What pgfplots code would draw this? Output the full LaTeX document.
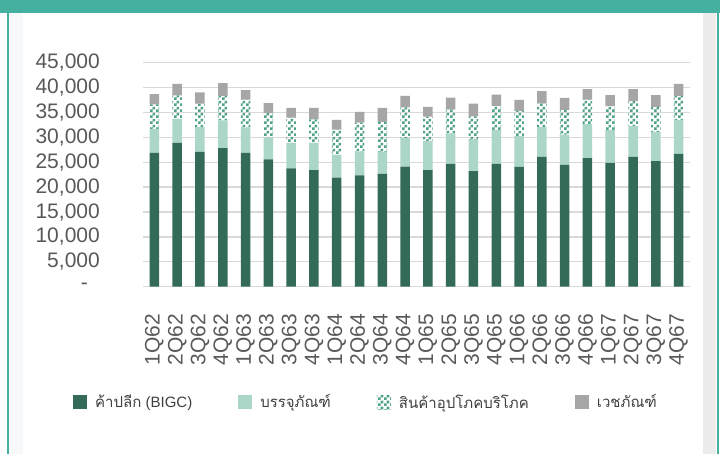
\documentclass[border=0pt]{standalone}
\usepackage{fontspec}
\setmainfont{Liberation Sans}
\newfontfamily\thaifont[Script=Thai]{Loma}
\usepackage{pgfplots}
\pgfplotsset{compat=1.18}
\usepackage{pgfplotstable}
\usetikzlibrary{patterns}
\definecolor{darkg}{HTML}{336B58}
\definecolor{mint}{HTML}{ABD6C8}
\definecolor{chkg}{HTML}{4FA285}
\definecolor{grayb}{HTML}{A6A6A6}
\definecolor{gridc}{HTML}{D9D9D9}
\definecolor{tealf}{HTML}{45B0A0}
\definecolor{lstrip}{HTML}{F6F8FA}
\definecolor{rstrip}{HTML}{ECECEC}
\definecolor{labc}{HTML}{595959}
\pgfdeclarepatternformonly{chk}{\pgfpointorigin}{\pgfpoint{6pt}{6pt}}{\pgfpoint{6pt}{6pt}}{%
  \pgfpathrectangle{\pgfpointorigin}{\pgfpoint{3pt}{3pt}}%
  \pgfpathrectangle{\pgfpoint{3pt}{3pt}}{\pgfpoint{3pt}{3pt}}%
  \pgfusepath{fill}}
\pgfplotstableread{
x a b c d
0 26860 4820 4960 2070
1 28870 4820 4760 2270
2 27060 5020 4690 2270
3 27860 5560 4890 2610
4 26860 5080 5630 1940
5 25590 4420 4880 2010
6 23780 5090 5080 1950
7 23440 5430 4750 2280
8 21900 4560 5080 1950
9 22370 4750 5830 2150
10 22640 4420 6030 2810
11 24110 5760 6170 2270
12 23440 5830 4880 1950
13 24650 6090 4900 2330
14 23240 6230 4750 2550
15 24650 6830 4820 2270
16 24050 6220 5030 2210
17 26060 6020 4760 2470
18 24450 6090 4960 2410
19 25850 6830 4890 2140
20 24850 6630 4820 2210
21 26060 6220 5020 2410
22 25250 5830 5020 2410
23 26660 6830 4820 2410
}\data
\begin{document}
\begin{tikzpicture}[x=1pt,y=1pt]
\useasboundingbox (0,0) rectangle (720,454);
\fill[white] (0,0) rectangle (720,454);
\fill[lstrip] (9,0) rectangle (23,441);
\fill[rstrip] (703,0) rectangle (716,441);
\fill[tealf] (0,441) rectangle (720,454);
\fill[tealf] (7,0) rectangle (9,441);
\fill[tealf] (716.5,0) rectangle (719,441);
\begin{axis}[
  at={(143pt,167.3pt)}, anchor=south west,
  width=547pt, height=224pt, scale only axis,
  ybar stacked, bar width=9.5pt,
  xmin=-0.5, xmax=23.5, ymin=0, ymax=45000,
  axis line style={draw=none},
  tick style={draw=none}, major tick length=0pt,
  ymajorgrids, grid style={gridc, line width=1.3pt},
  ytick={0,5000,...,45000},
  yticklabels={{-\hspace*{12pt}},{5,000},{10,000},{15,000},{20,000},{25,000},{30,000},{35,000},{40,000},{45,000}},
  scaled y ticks=false,
  yticklabel style={anchor=east, inner sep=0pt, xshift=-43pt, text=labc, font=\fontsize{21}{21}\selectfont},
  xtick={0,...,23},
  xticklabels={1Q62,2Q62,3Q62,4Q62,1Q63,2Q63,3Q63,4Q63,1Q64,2Q64,3Q64,4Q64,1Q65,2Q65,3Q65,4Q65,1Q66,2Q66,3Q66,4Q66,1Q67,2Q67,3Q67,4Q67},
  xticklabel style={rotate=90, anchor=east, inner sep=0pt, text=labc, font=\fontsize{21}{21}\selectfont},
  xticklabel shift=27pt,
  legend columns=4,
  legend style={draw=none, fill=none, at={(-0.128,-0.515)}, anchor=west, inner sep=0pt,
    font=\fontsize{15}{18}\selectfont, text=black!75,
    /tikz/every even column/.append style={column sep=38pt},
    nodes={inner xsep=8pt}},
  sqleg/.style={legend image code/.code={\path[##1, draw=none] (0pt,-7pt) rectangle (14pt,7pt);}},
]
\addplot[fill=darkg, draw=none, sqleg] table[x=x, y=a] {\data};
\addlegendentry{{\thaifont ค้าปลีก} (BIGC)}
\addplot[fill=mint, draw=none, sqleg] table[x=x, y=b] {\data};
\addlegendentry{{\thaifont บรรจุภัณฑ์}}
\addplot[pattern=chk, pattern color=chkg, draw=none, sqleg] table[x=x, y=c] {\data};
\addlegendentry{{\thaifont สินค้าอุปโภคบริโภค}}
\addplot[fill=grayb, draw=none, sqleg] table[x=x, y=d] {\data};
\addlegendentry{{\thaifont เวชภัณฑ์}}
\end{axis}
\end{tikzpicture}
\end{document}
